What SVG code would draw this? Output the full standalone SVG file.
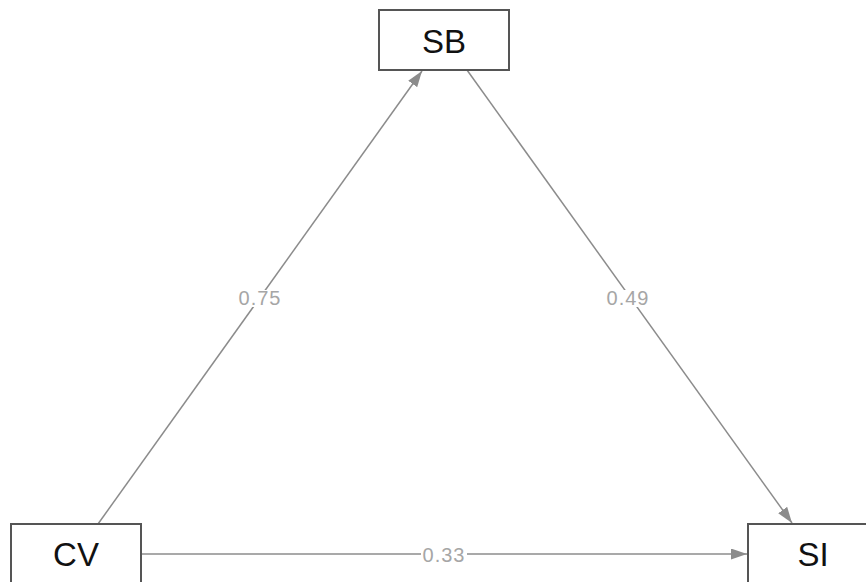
<svg xmlns="http://www.w3.org/2000/svg" width="866" height="582" viewBox="0 0 866 582">
<defs>
<style>
.node rect{fill:#fff;stroke:#555;stroke-width:2}
.node text{font-family:"Liberation Sans",Arial,sans-serif;font-size:33px;fill:#111;text-anchor:middle}
.edge{stroke:#8c8c8c;stroke-width:1.5;fill:none;marker-end:url(#arr)}
.lbl{font-family:"Liberation Sans",Arial,sans-serif;font-size:20px;letter-spacing:1px;fill:#a6a6a6;text-anchor:middle}
.lblbg{fill:#fff}
</style>
<marker id="arr" viewBox="0 0 16 11" refX="16" refY="5.5" markerWidth="16" markerHeight="11" markerUnits="userSpaceOnUse" orient="auto">
<path d="M0,0 L16,5.5 L0,11 z" fill="#8c8c8c"/>
</marker>
</defs>
<rect width="866" height="582" fill="#fff"/>
<g id="connectors">
<line class="edge" x1="98" y1="524" x2="422" y2="71"/>
<line class="edge" x1="467" y1="70" x2="792" y2="523"/>
<line class="edge" x1="141" y1="554" x2="747" y2="554"/>
<rect class="lblbg" x="237" y="290" width="46" height="17"/>
<text class="lbl" x="260" y="305">0.75</text>
<rect class="lblbg" x="605" y="290" width="46" height="17"/>
<text class="lbl" x="628" y="305">0.49</text>
<rect class="lblbg" x="421" y="546" width="46" height="17"/>
<text class="lbl" x="444" y="562">0.33</text>
</g>
<g id="SB" class="node">
<rect x="379" y="10" width="130" height="60"/>
<text x="444" y="53">SB</text>
</g>
<g id="CV" class="node">
<rect x="11" y="524" width="130" height="62"/>
<text x="76" y="566">CV</text>
</g>
<g id="SI" class="node">
<rect x="748" y="524" width="130" height="62"/>
<text x="813" y="566">SI</text>
</g>
</svg>
